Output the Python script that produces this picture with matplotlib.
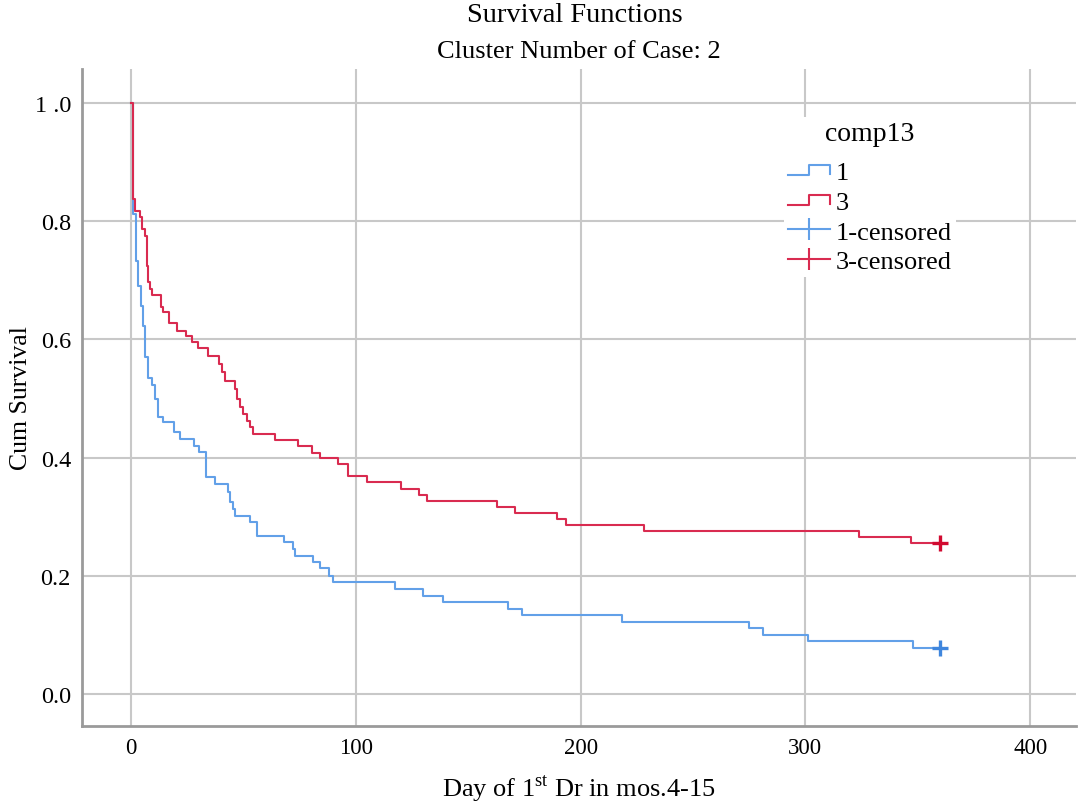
import matplotlib
matplotlib.use("Agg")
import matplotlib.pyplot as plt
from matplotlib.lines import Line2D
from matplotlib.legend_handler import HandlerBase

plt.rcParams['font.family'] = ['Liberation Serif', 'DejaVu Serif']
plt.rcParams['mathtext.fontset'] = 'custom'
plt.rcParams['mathtext.rm'] = 'Liberation Serif'

# ---- data ----
blue_t = [0, 0.8, 2.1, 3.2, 4.3, 5.2, 6.2, 7.7, 9.3, 10.7, 11.8, 14.2, 19.1, 21.8, 28.0,
          30.2, 33.3, 37.3, 43.1, 44.0, 45.3, 46.2, 52.9, 56.0, 68.0, 72.2, 72.9, 81.0,
          84.0, 88.1, 89.8, 117.3, 129.9, 138.8, 167.7, 173.8, 218.5, 275.1, 281.0,
          301.3, 347.7]
blue_s = [1.0, 0.812, 0.733, 0.691, 0.657, 0.623, 0.570, 0.535, 0.523, 0.499, 0.469,
          0.461, 0.443, 0.431, 0.420, 0.409, 0.367, 0.355, 0.342, 0.325, 0.313, 0.301,
          0.291, 0.268, 0.257, 0.245, 0.234, 0.223, 0.213, 0.200, 0.189, 0.178, 0.166,
          0.155, 0.144, 0.134, 0.122, 0.112, 0.100, 0.089, 0.078]
red_t = [0, 0.8, 1.8, 4.0, 5.0, 6.2, 7.0, 7.7, 8.4, 9.3, 13.3, 14.2, 17.1, 20.4, 24.4,
         27.0, 29.9, 34.4, 39.2, 40.4, 41.8, 46.2, 47.1, 48.4, 49.8, 51.4, 52.9, 54.2,
         64.0, 74.4, 80.3, 84.0, 92.1, 96.4, 105.0, 119.9, 128.1, 131.9, 162.8, 171.0,
         189.5, 193.6, 228.4, 324.0, 347.0]
red_s = [1.0, 0.838, 0.818, 0.807, 0.787, 0.775, 0.725, 0.697, 0.685, 0.675, 0.655,
         0.646, 0.628, 0.615, 0.606, 0.596, 0.585, 0.572, 0.558, 0.544, 0.530, 0.516,
         0.499, 0.485, 0.474, 0.462, 0.451, 0.440, 0.430, 0.420, 0.408, 0.400, 0.389,
         0.369, 0.358, 0.347, 0.337, 0.327, 0.317, 0.307, 0.296, 0.286, 0.276, 0.266,
         0.255]
censor_time = 360
group_labels = ['1', '3', '1-censored', '3-censored']
x_ticks = [0, 100, 200, 300, 400]
y_ticks = [0.0, 0.2, 0.4, 0.6, 0.8, 1.0]
y_tick_labels = ['0.0', '0.2', '0.4', '0.6', '0.8', '1 .0']

BLUE = '#62a0e8'
RED = '#d92b50'
BLUE_M = '#3f86dd'
RED_M = '#d10a30'

W, H = 1078, 803
fig = plt.figure(figsize=(W / 100, H / 100), dpi=100)
ax = fig.add_axes([82 / W, 1 - 727 / H, (1076 - 82) / W, (727 - 70) / H])

ax.step(blue_t + [censor_time], blue_s + [blue_s[-1]], where='post', color=BLUE, lw=1.5, zorder=3)
ax.step(red_t + [censor_time], red_s + [red_s[-1]], where='post', color=RED, lw=1.5, zorder=4)
ax.plot([censor_time], [blue_s[-1]], marker='+', color=BLUE_M, ms=11, mew=2.4, ls='none', zorder=5)
ax.plot([censor_time], [red_s[-1]], marker='+', color=RED_M, ms=11, mew=2.4, ls='none', zorder=5)

ax.set_xlim(-21.8, 420.4)
ax.set_ylim(-0.0541, 1.0575)
ax.set_xticks(x_ticks)
ax.set_xticklabels([str(v) for v in x_ticks], fontsize=16.5)
ax.set_yticks(y_ticks)
ax.set_yticklabels(y_tick_labels, fontsize=17.5)
ax.tick_params(axis='both', length=0)
ax.tick_params(axis='y', pad=8)
ax.tick_params(axis='x', pad=8)
ax.grid(True, color='#c8c8c8', lw=1.5)
ax.set_axisbelow(True)
for s in ['top', 'right']:
    ax.spines[s].set_visible(False)
for s in ['left', 'bottom']:
    ax.spines[s].set_color('#9a9a9a')
    ax.spines[s].set_linewidth(2.0)

ax.set_xlabel('Day of 1$^{\\mathrm{st}}$ Dr in mos.4-15', fontsize=19, labelpad=10)
ax.set_ylabel('Cum Survival', fontsize=18.5, labelpad=2)

fig.text(575 / W, 1 - 16 / H, 'Survival Functions', ha='center', va='center', fontsize=20.5)
fig.text(579 / W, 1 - 52 / H, 'Cluster Number of Case: 2', ha='center', va='center', fontsize=19)


class StepHandler(HandlerBase):
    def create_artists(self, legend, orig_handle, xdescent, ydescent, width, height,
                       fontsize, trans):
        x0 = -xdescent
        y0 = -ydescent + height * 0.2
        y1 = -ydescent + height * 0.75
        xs = [x0, x0 + width * 0.5, x0 + width * 0.5, x0 + width, x0 + width]
        ys = [y0, y0, y1, y1, y0 + (y1 - y0) * 0.1]
        ln = Line2D(xs, ys, color=orig_handle.get_color(), lw=orig_handle.get_linewidth(),
                    transform=trans)
        return [ln]


h1 = Line2D([], [], color=BLUE, lw=1.5)
h3 = Line2D([], [], color=RED, lw=1.5)
h1c = Line2D([], [], color=BLUE, lw=1.5, marker='|', ms=16, mew=1.5)
h3c = Line2D([], [], color=RED, lw=1.5, marker='|', ms=16, mew=1.5)
leg = ax.legend([h1, h3, h1c, h3c], group_labels, title='comp13',
                handler_map={h1: StepHandler(), h3: StepHandler()},
                loc='upper left', bbox_to_anchor=(784 / W, 1 - 118 / H),
                bbox_transform=fig.transFigure, fontsize=19, title_fontsize=20,
                frameon=True, facecolor='white', edgecolor='none', framealpha=1,
                fancybox=False, handlelength=1.6, handletextpad=0.2, labelspacing=0.24,
                borderpad=0.15, numpoints=1, borderaxespad=0)
leg.get_frame().set_linewidth(0)
try:
    leg._legend_box.sep = 10.5
except Exception:
    pass

fig.savefig('out.png', dpi=100)
